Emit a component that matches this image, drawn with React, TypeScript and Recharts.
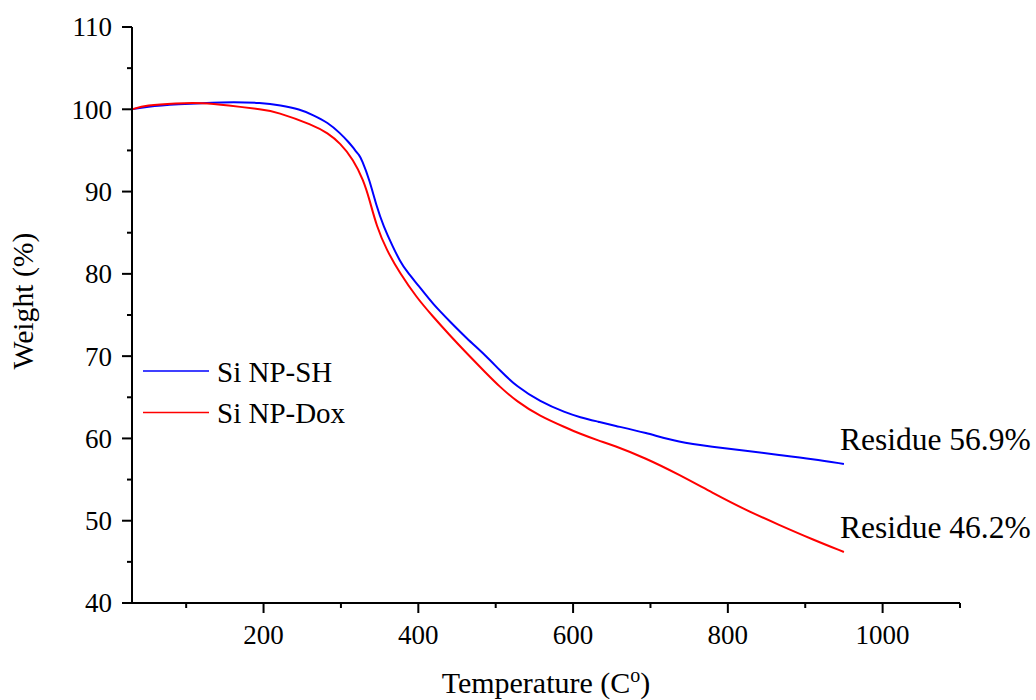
import { LineChart, Line, XAxis, YAxis, Legend, ReferenceDot } from 'recharts';

const FONT = "'Liberation Serif', 'Times New Roman', serif";

// Si NP-SH curve (temperature °C, weight %)
const SH_TEMP = [30, 48, 87, 147, 200, 221, 247, 264, 283, 299, 310, 317, 320, 323, 327, 337, 346, 355, 367, 376, 385, 400, 419, 442, 462, 488, 505, 527, 557, 591, 608, 634, 651, 694, 737, 780, 823, 866, 910, 950];
const SH_WEIGHT = [100.0, 100.3, 100.6, 100.9, 100.8, 100.5, 100.0, 99.3, 98.4, 97.1, 96.0, 95.2, 94.8, 94.5, 93.9, 91.4, 88.2, 85.8, 83.3, 81.6, 80.3, 78.6, 76.3, 74.1, 72.2, 70.0, 68.3, 66.3, 64.5, 63.1, 62.6, 62.0, 61.6, 60.7, 59.5, 59.0, 58.5, 58.0, 57.5, 56.9];

// Si NP-Dox curve
const DOX_TEMP = [30, 48, 87, 122, 152, 200, 216, 264, 283, 299, 316, 329, 337, 346, 359, 376, 398, 419, 440, 462, 488, 505, 527, 557, 591, 608, 634, 651, 694, 737, 780, 823, 866, 910, 950];
const DOX_WEIGHT = [100.0, 100.5, 100.75, 100.8, 100.5, 99.95, 99.7, 98.1, 97.1, 95.9, 93.9, 91.4, 89.0, 85.8, 82.9, 80.1, 77.1, 74.8, 72.6, 70.4, 67.9, 66.3, 64.5, 62.7, 61.3, 60.6, 59.7, 59.2, 57.6, 55.6, 53.4, 51.3, 49.5, 47.7, 46.2];

const X_TICKS = [100, 200, 300, 400, 500, 600, 700, 800, 900, 1000, 1100];
const Y_TICKS = [40, 45, 50, 55, 60, 65, 70, 75, 80, 85, 90, 95, 100, 105, 110];

const SERIES_ORDER = ['Si NP-SH', 'Si NP-Dox'];

const RESIDUES = [
  { t: 950, w: 56.9, text: 'Residue 56.9%' },
  { t: 950, w: 46.2, text: 'Residue 46.2%' }
];

const shData = SH_TEMP.map((t, i) => ({ t, w: SH_WEIGHT[i] }));
const doxData = DOX_TEMP.map((t, i) => ({ t, w: DOX_WEIGHT[i] }));

const XTick = ({ x, y, payload }: any) => {
  const major = payload.value % 200 === 0;
  return (
    <g>
      <line x1={x} x2={x} y1={y} y2={y + (major ? 10 : 5)} stroke="#000" strokeWidth={2} />
      {major && (
        <text x={x} y={y + 41} textAnchor="middle" fontFamily={FONT} fontSize={27} fill="#000">
          {payload.value}
        </text>
      )}
    </g>
  );
};

const YTick = ({ x, y, payload }: any) => {
  const major = payload.value % 10 === 0;
  return (
    <g>
      <line x1={x - (major ? 10 : 5)} x2={x} y1={y} y2={y} stroke="#000" strokeWidth={2} />
      {major && (
        <text x={x - 20} y={y} dy="0.35em" textAnchor="end" fontFamily={FONT} fontSize={27} fill="#000">
          {payload.value}
        </text>
      )}
    </g>
  );
};

const LegendBox = ({ payload }: any) => {
  const items = [...(payload || [])].sort(
    (a: any, b: any) => SERIES_ORDER.indexOf(a.value) - SERIES_ORDER.indexOf(b.value)
  );
  return (
    <svg width={240} height={90}>
      {items.map((p: any, i: number) => (
        <g key={p.value}>
          <line x1={3} x2={69} y1={26 + i * 41.5} y2={26 + i * 41.5} stroke={p.color} strokeWidth={1.3} />
          <text x={77} y={37 + i * 41} fontFamily={FONT} fontSize={29} fill="#000">
            {p.value}
          </text>
        </g>
      ))}
    </svg>
  );
};

export default function App() {
  return (
    <div style={{ position: 'absolute', left: 0, top: 0, width: 1036, height: 700, background: '#fff' }}>
      <LineChart width={1036} height={700} margin={{ top: 27, right: 76, bottom: 37, left: 0 }}>
        <XAxis
          type="number"
          dataKey="t"
          domain={[30, 1100]}
          ticks={X_TICKS}
          interval={0}
          allowDataOverflow
          height={60}
          tickSize={0}
          tickMargin={0}
          tickLine={false}
          axisLine={{ stroke: '#000', strokeWidth: 2 }}
          tick={<XTick />}
          label={{
            content: ({ viewBox }: any) => (
              <text x={viewBox.x + viewBox.width / 2} y={viewBox.y + 90} textAnchor="middle" fontFamily={FONT} fontSize={30} fill="#000">
                Temperature (C<tspan dy={-11} fontSize={20}>o</tspan><tspan dy={11}>)</tspan>
              </text>
            )
          }}
        />
        <YAxis
          type="number"
          domain={[40, 110]}
          ticks={Y_TICKS}
          interval={0}
          allowDataOverflow
          width={132}
          tickSize={0}
          tickMargin={0}
          tickLine={false}
          axisLine={{ stroke: '#000', strokeWidth: 2 }}
          tick={<YTick />}
          label={{
            content: ({ viewBox }: any) => {
              const cx = 33;
              const cy = viewBox.y + viewBox.height / 2 - 14;
              return (
                <text x={cx} y={cy} transform={`rotate(-90, ${cx}, ${cy})`} textAnchor="middle" fontFamily={FONT} fontSize={29.7} fill="#000">
                  Weight (%)
                </text>
              );
            }
          }}
        />
        <Line data={shData} dataKey="w" name="Si NP-SH" type="basis" stroke="#0000ff" strokeWidth={2} dot={false} isAnimationActive={false} />
        <Line data={doxData} dataKey="w" name="Si NP-Dox" type="basis" stroke="#ff0000" strokeWidth={2} dot={false} isAnimationActive={false} />
        {RESIDUES.map((r) => (
          <ReferenceDot
            key={r.text}
            x={r.t}
            y={r.w}
            r={0}
            ifOverflow="visible"
            shape={(p: any) => (
              <text x={p.cx - 4} y={p.cy - 13.5} fontFamily={FONT} fontSize={31.5} fill="#000">
                {r.text}
              </text>
            )}
          />
        ))}
        <Legend
          layout="horizontal"
          align="center"
          verticalAlign="middle"
          content={<LegendBox />}
          wrapperStyle={{ position: 'absolute', left: 140, top: 345, width: 240, height: 90 }}
        />
      </LineChart>
    </div>
  );
}
